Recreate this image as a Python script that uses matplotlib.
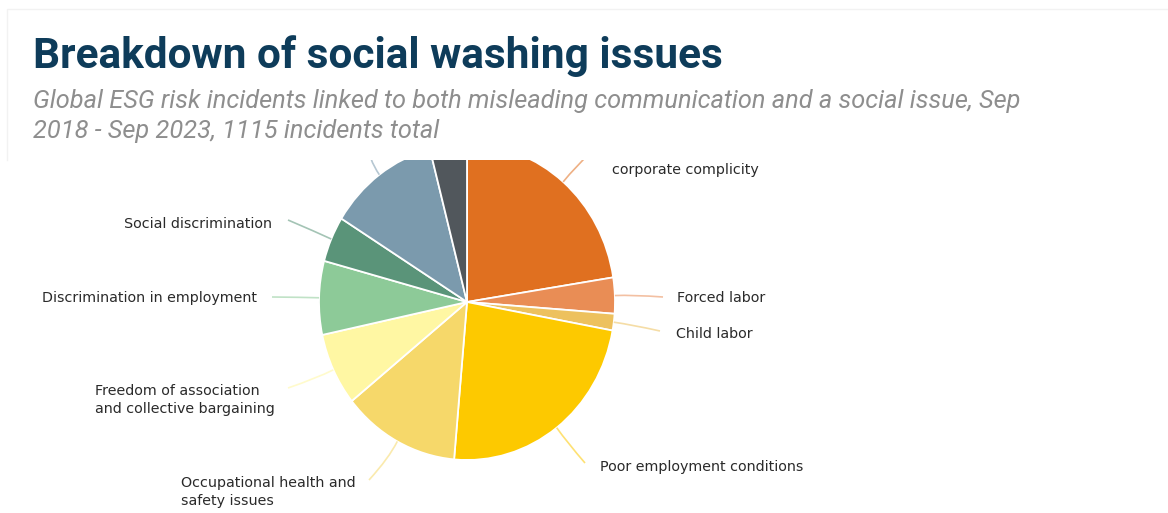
import matplotlib.pyplot as plt
import numpy as np
from matplotlib.patches import Rectangle, PathPatch
from matplotlib.path import Path
from matplotlib.colors import to_rgb

# Data: social washing incidents by issue (1115 total), clockwise from top
issues = ['Human rights abuses and\ncorporate complicity', 'Forced labor', 'Child labor',
          'Poor employment conditions', 'Occupational health and\nsafety issues',
          'Freedom of association\nand collective bargaining', 'Discrimination in employment',
          'Social discrimination', 'Impacts on communities', 'Local participation issues']
incidents = [251, 41, 19, 262, 143, 83, 84, 52, 135, 45]
colors = ['#E07020', '#E98D55', '#EDC15E', '#FDC900', '#F6D86A',
          '#FFF7A3', '#8DCA98', '#5A9479', '#7B9AAD', '#51575C']

W, H = 1168, 513
CX, CY, RX, RY = 467, 302, 148, 158   # pie centre / radii in pixels
HEADER = 160                          # header panel hides everything above this


def px(x, y):
    # pixel position -> pie data units
    return (x - CX) / RX, (CY - y) / RY


# label anchor (px), alignment, connector end (px)
label_layout = [
    ((612, 161), 'left', (595, 148)),
    ((677, 298), 'left', (663, 297)),
    ((676, 334), 'left', (660, 331)),
    ((600, 467), 'left', (585, 463)),
    ((356, 492), 'right', (369, 480)),
    ((275, 400), 'right', (288, 388)),
    ((257, 298), 'right', (272, 297)),
    ((272, 224), 'right', (288, 220)),
    ((355, 130), 'right', (366, 140)),
    ((480, 100), 'left', (455, 110)),
]

fig = plt.figure(figsize=(W / 100, H / 100), dpi=100)
ax = fig.add_axes([0, 0, 1, 1])
wedges, _ = ax.pie(incidents, colors=colors, startangle=90, counterclock=False,
                   wedgeprops=dict(edgecolor='white', linewidth=1.3))
ax.set_aspect('auto')
ax.set_xlim(px(0, 0)[0], px(W, 0)[0])
ax.set_ylim(px(0, H)[1], px(0, 0)[1])
ax.axis('off')

for wedge, label, (pos, ha, end) in zip(wedges, issues, label_layout):
    ang = np.radians((wedge.theta1 + wedge.theta2) / 2)
    start = (np.cos(ang), np.sin(ang))
    elbow = (1.12 * np.cos(ang), 1.12 * np.sin(ang))
    stop = px(*end)
    line_col = 0.55 * np.array(to_rgb(wedge.get_facecolor())) + 0.45
    path = Path([start, elbow, stop], [Path.MOVETO, Path.CURVE3, Path.CURVE3])
    ax.add_patch(PathPatch(path, fill=False, edgecolor=line_col, lw=1.2))
    if pos[1] < HEADER - 20:
        continue  # label sits fully under the header panel in the original
    tx, ty = px(*pos)
    ax.text(tx, ty, label, ha=ha, va='center', multialignment='left',
            fontsize=10.3, color='#2A2A2A', linespacing=1.3)

# header panel covering the top of the pie
fig.add_artist(Rectangle((0, 1 - HEADER / H), 1, HEADER / H, transform=fig.transFigure,
                         facecolor='white', edgecolor='none', zorder=5))
fig.add_artist(plt.Line2D([7 / W, 7 / W, 1], [1 - HEADER / H, 1 - 9 / H, 1 - 9 / H],
                          transform=fig.transFigure, color='#F2F2F2', lw=1, zorder=5))

fig.text(33 / W, 1 - 68 / H, 'Breakdown of social washing issues', fontsize=30.5,
         fontweight='bold', family='Roboto', color='#0E3C5A', zorder=6)
fig.text(33 / W, 1 - 108 / H,
         'Global ESG risk incidents linked to both misleading communication and a social issue, Sep',
         fontsize=18.3, style='italic', family='Roboto', color='#8E8E8E', zorder=6)
fig.text(33 / W, 1 - 138 / H, '2018 - Sep 2023, 1115 incidents total',
         fontsize=18.3, style='italic', family='Roboto', color='#8E8E8E', zorder=6)

fig.savefig('out.png', dpi=100, facecolor='white')
